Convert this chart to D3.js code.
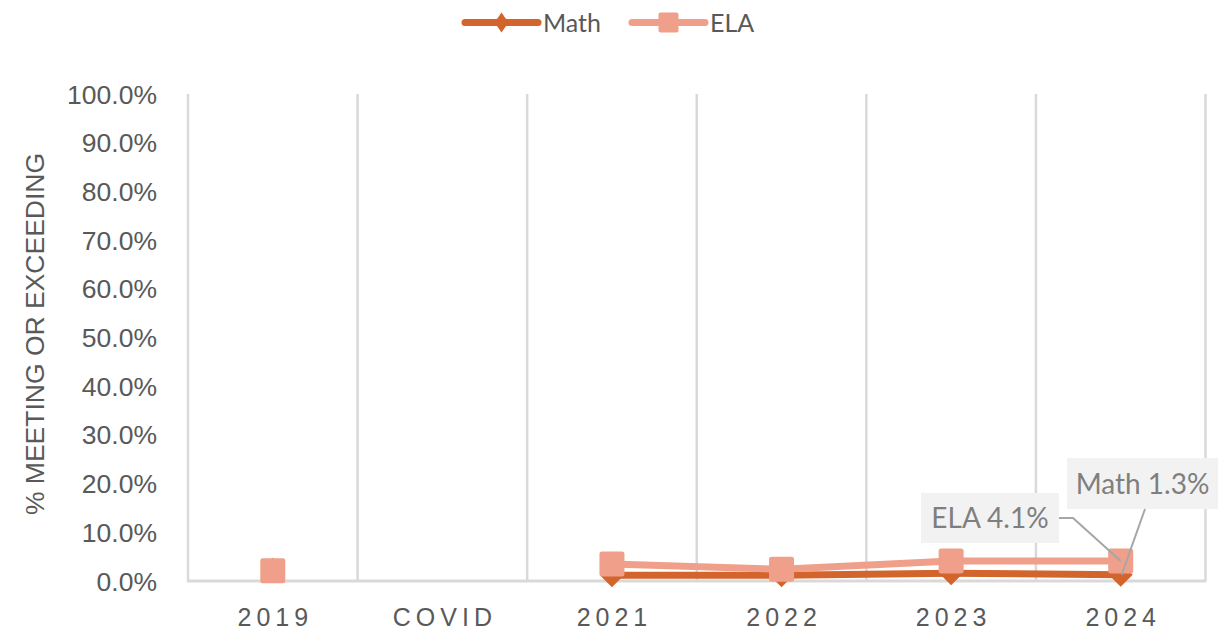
<!DOCTYPE html>
<html>
<head>
<meta charset="utf-8">
<script src="https://cdn.jsdelivr.net/npm/d3@7"></script>
<style>
  html, body { margin: 0; padding: 0; background: #fff; }
  svg { display: block; }
</style>
</head>
<body>
<svg id="chart" width="1221" height="633"></svg>
<script>
const categories = ["2019", "COVID", "2021", "2022", "2023", "2024"];
const mathValues = [2.3, null, 1.2, 1.2, 1.6, 1.3];
const elaValues  = [2.1, null, 3.5, 2.4, 4.1, 4.1];
const yTicks = [0, 10, 20, 30, 40, 50, 60, 70, 80, 90, 100];
const seriesNames = ["Math", "ELA"];
const dataLabels = [
  { series: "ELA",  text: "ELA 4.1%",  cat: "2024" },
  { series: "Math", text: "Math 1.3%", cat: "2024" }
];

const mathColor = "#D2642C";
const elaColor  = "#F0A08A";

const svg = d3.select("#chart");
const plot = { left: 188, right: 1205.5, top: 94, bottom: 581 };

const x = d3.scaleBand().domain(categories).range([plot.left, plot.right]);
const y = d3.scaleLinear().domain([0, 100]).range([plot.bottom, plot.top]);
const cx = c => x(c) + x.bandwidth() / 2;

// vertical gridlines at category boundaries
const bounds = categories.map(c => x(c)).concat([plot.right]);
svg.append("g").selectAll("line").data(bounds).join("line")
  .attr("x1", d => d).attr("x2", d => d)
  .attr("y1", plot.top).attr("y2", plot.bottom)
  .attr("stroke", "#D9D9D9").attr("stroke-width", 2.5);

// baseline
svg.append("line")
  .attr("x1", plot.left - 1).attr("x2", plot.right + 1)
  .attr("y1", y(0)).attr("y2", y(0))
  .attr("stroke", "#D9D9D9").attr("stroke-width", 3);

// y axis labels
const yAxis = d3.axisLeft(y).tickValues(yTicks).tickSize(0).tickPadding(0)
  .tickFormat(d => d.toFixed(1) + "%");
const gy = svg.append("g").attr("transform", `translate(157,0)`).call(yAxis);
gy.select(".domain").remove();
gy.selectAll("text")
  .attr("font-family", "'Liberation Sans', Arial, sans-serif")
  .attr("font-size", 26.5).attr("fill", "#595959").attr("dy", "0.34em");

// y axis title
svg.append("text")
  .attr("transform", `translate(44,334) rotate(-90)`)
  .attr("text-anchor", "middle")
  .attr("font-family", "'Liberation Sans', Arial, sans-serif")
  .attr("font-size", 26.5).attr("fill", "#595959")
  .text("% MEETING OR EXCEEDING");

// x axis labels
const ls = 5;
const xAxis = d3.axisBottom(x).tickSize(0).tickPadding(0);
const gx = svg.append("g").attr("transform", `translate(${ls/2},0)`).call(xAxis);
gx.select(".domain").remove();
gx.selectAll("text")
  .attr("y", 626).attr("dy", 0)
  .attr("font-family", "'Liberation Sans', Arial, sans-serif")
  .attr("font-size", 25).attr("fill", "#595959")
  .attr("letter-spacing", ls + "px");

// lines
const line = d3.line()
  .defined(d => d.v !== null)
  .x(d => cx(d.c)).y(d => y(d.v));

function series(vals) { return categories.map((c, i) => ({ c, v: vals[i] })); }
const mathData = series(mathValues);
const elaData = series(elaValues);

const diamond = (s) => `M0,${-s}L${s},0L0,${s}L${-s},0Z`;

// Math
svg.append("path").datum(mathData).attr("d", line)
  .attr("fill", "none").attr("stroke", mathColor).attr("stroke-width", 7)
  .attr("stroke-linejoin", "round").attr("stroke-linecap", "round");
svg.append("g").selectAll("path").data(mathData.filter(d => d.v !== null)).join("path")
  .attr("transform", d => `translate(${cx(d.c)},${y(d.v)})`)
  .attr("d", diamond(12)).attr("fill", mathColor);

// ELA
svg.append("path").datum(elaData).attr("d", line)
  .attr("fill", "none").attr("stroke", elaColor).attr("stroke-width", 7)
  .attr("stroke-linejoin", "round").attr("stroke-linecap", "round");
svg.append("g").selectAll("rect").data(elaData.filter(d => d.v !== null)).join("rect")
  .attr("x", d => cx(d.c) - 12.5).attr("y", d => y(d.v) - 12.5)
  .attr("width", 25).attr("height", 25).attr("rx", 2.5)
  .attr("fill", elaColor);

// data labels with leader lines
const labelFont = "Lato, 'Open Sans', sans-serif";
const vals = { Math: mathValues, ELA: elaValues };
const boxes = {
  ELA:  { x: 921, y: 493, w: 138, h: 50 },
  Math: { x: 1067, y: 458, w: 151, h: 51 }
};
dataLabels.forEach(dl => {
  const b = boxes[dl.series];
  svg.append("rect").attr("x", b.x).attr("y", b.y).attr("width", b.w).attr("height", b.h)
    .attr("fill", "#F2F2F2");
  svg.append("text").attr("x", b.x + b.w / 2).attr("y", b.y + b.h / 2)
    .attr("dy", "0.36em").attr("text-anchor", "middle")
    .attr("font-family", labelFont).attr("font-size", 28).attr("fill", "#7F7F7F")
    .text(dl.text);
});
// leaders
const ePt = { x: cx("2024"), y: y(elaValues[5]) };
const mPt = { x: cx("2024"), y: y(mathValues[5]) };
svg.append("polyline")
  .attr("points", `${boxes.ELA.x + boxes.ELA.w},518 1073,518 ${ePt.x},${ePt.y}`)
  .attr("fill", "none").attr("stroke", "#A6A6A6").attr("stroke-width", 2);
svg.append("line")
  .attr("x1", 1145).attr("y1", boxes.Math.y + boxes.Math.h)
  .attr("x2", mPt.x + 1).attr("y2", mPt.y)
  .attr("stroke", "#A6A6A6").attr("stroke-width", 2);

// legend
const legend = svg.append("g");
const legendItems = [
  { name: seriesNames[0], color: mathColor, x0: 465, x1: 538, tx: 543, marker: "diamond" },
  { name: seriesNames[1], color: elaColor, x0: 632, x1: 705, tx: 710, marker: "square" }
];
legendItems.forEach(it => {
  legend.append("line").attr("x1", it.x0).attr("x2", it.x1).attr("y1", 22.5).attr("y2", 22.5)
    .attr("stroke", it.color).attr("stroke-width", 7).attr("stroke-linecap", "round");
  const mx = (it.x0 + it.x1) / 2;
  if (it.marker === "diamond") {
    legend.append("path").attr("transform", `translate(${mx},22.5)`)
      .attr("d", `M0,-10L7,0L0,10L-7,0Z`).attr("fill", it.color);
  } else {
    legend.append("rect").attr("x", mx - 10).attr("y", 12.5).attr("width", 20).attr("height", 20)
      .attr("rx", 2).attr("fill", it.color);
  }
  legend.append("text").attr("x", it.tx).attr("y", 32)
    .attr("font-family", labelFont).attr("font-size", 25).attr("fill", "#595959")
    .text(it.name);
});
</script>
</body>
</html>
